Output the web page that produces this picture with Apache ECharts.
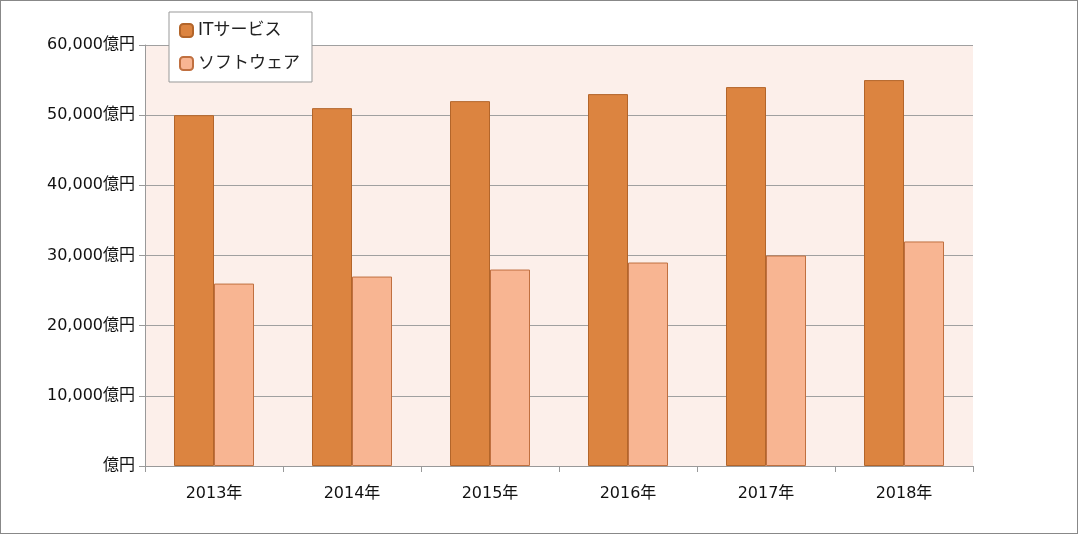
<!DOCTYPE html>
<html><head><meta charset="utf-8">
<script src="https://cdn.jsdelivr.net/npm/echarts@6/dist/echarts.min.js"></script>
<style>html,body{margin:0;padding:0;background:#fff}#c{width:1078px;height:534px;box-sizing:border-box;border:1px solid #888}</style>
</head><body><div id="c"></div>
<script>
const categories = ['2013年','2014年','2015年','2016年','2017年','2018年'];
const itServices = [50000,51000,52000,53000,54000,55000];
const software = [26000,27000,28000,29000,30000,32000];
const seriesNames = ['ITサービス','ソフトウェア'];
const font = "'DejaVu Sans','Noto Sans CJK JP',sans-serif";
const chart = echarts.init(document.getElementById('c'));
chart.setOption({
  animation:false,
  textStyle:{fontFamily:font},
  grid:{left:144,right:104,top:44,bottom:67,show:true,backgroundColor:'#fcefea',borderWidth:0},
  legend:{orient:'vertical',left:168,top:11,padding:[10,12,10,10],itemGap:16,itemWidth:13,itemHeight:13,
    backgroundColor:'#fff',borderColor:'#999',borderWidth:1,
    textStyle:{fontSize:17,color:'#222',fontFamily:font},data:seriesNames},
  xAxis:{type:'category',data:categories,
    axisLine:{lineStyle:{color:'#999'}},axisTick:{show:true,length:6,lineStyle:{color:'#999'}},
    axisLabel:{fontSize:16,color:'#111',margin:20}},
  yAxis:{type:'value',min:0,max:60000,interval:10000,
    axisLine:{show:true,lineStyle:{color:'#999'}},axisTick:{show:true,length:6,lineStyle:{color:'#999'}},
    splitLine:{lineStyle:{color:'#a0a0a0'}},
    axisLabel:{fontSize:16,color:'#111',margin:10,formatter:v=>v===0?'億円':v.toLocaleString('en-US')+'億円'}},
  series:[
    {name:seriesNames[0],type:'bar',data:itServices,barWidth:40,barGap:'0%',
     itemStyle:{color:'#dc8440',borderColor:'#b3652a',borderWidth:1}},
    {name:seriesNames[1],type:'bar',data:software,barWidth:40,
     itemStyle:{color:'#f8b592',borderColor:'#c07040',borderWidth:1}}
  ]
});
</script></body></html>
